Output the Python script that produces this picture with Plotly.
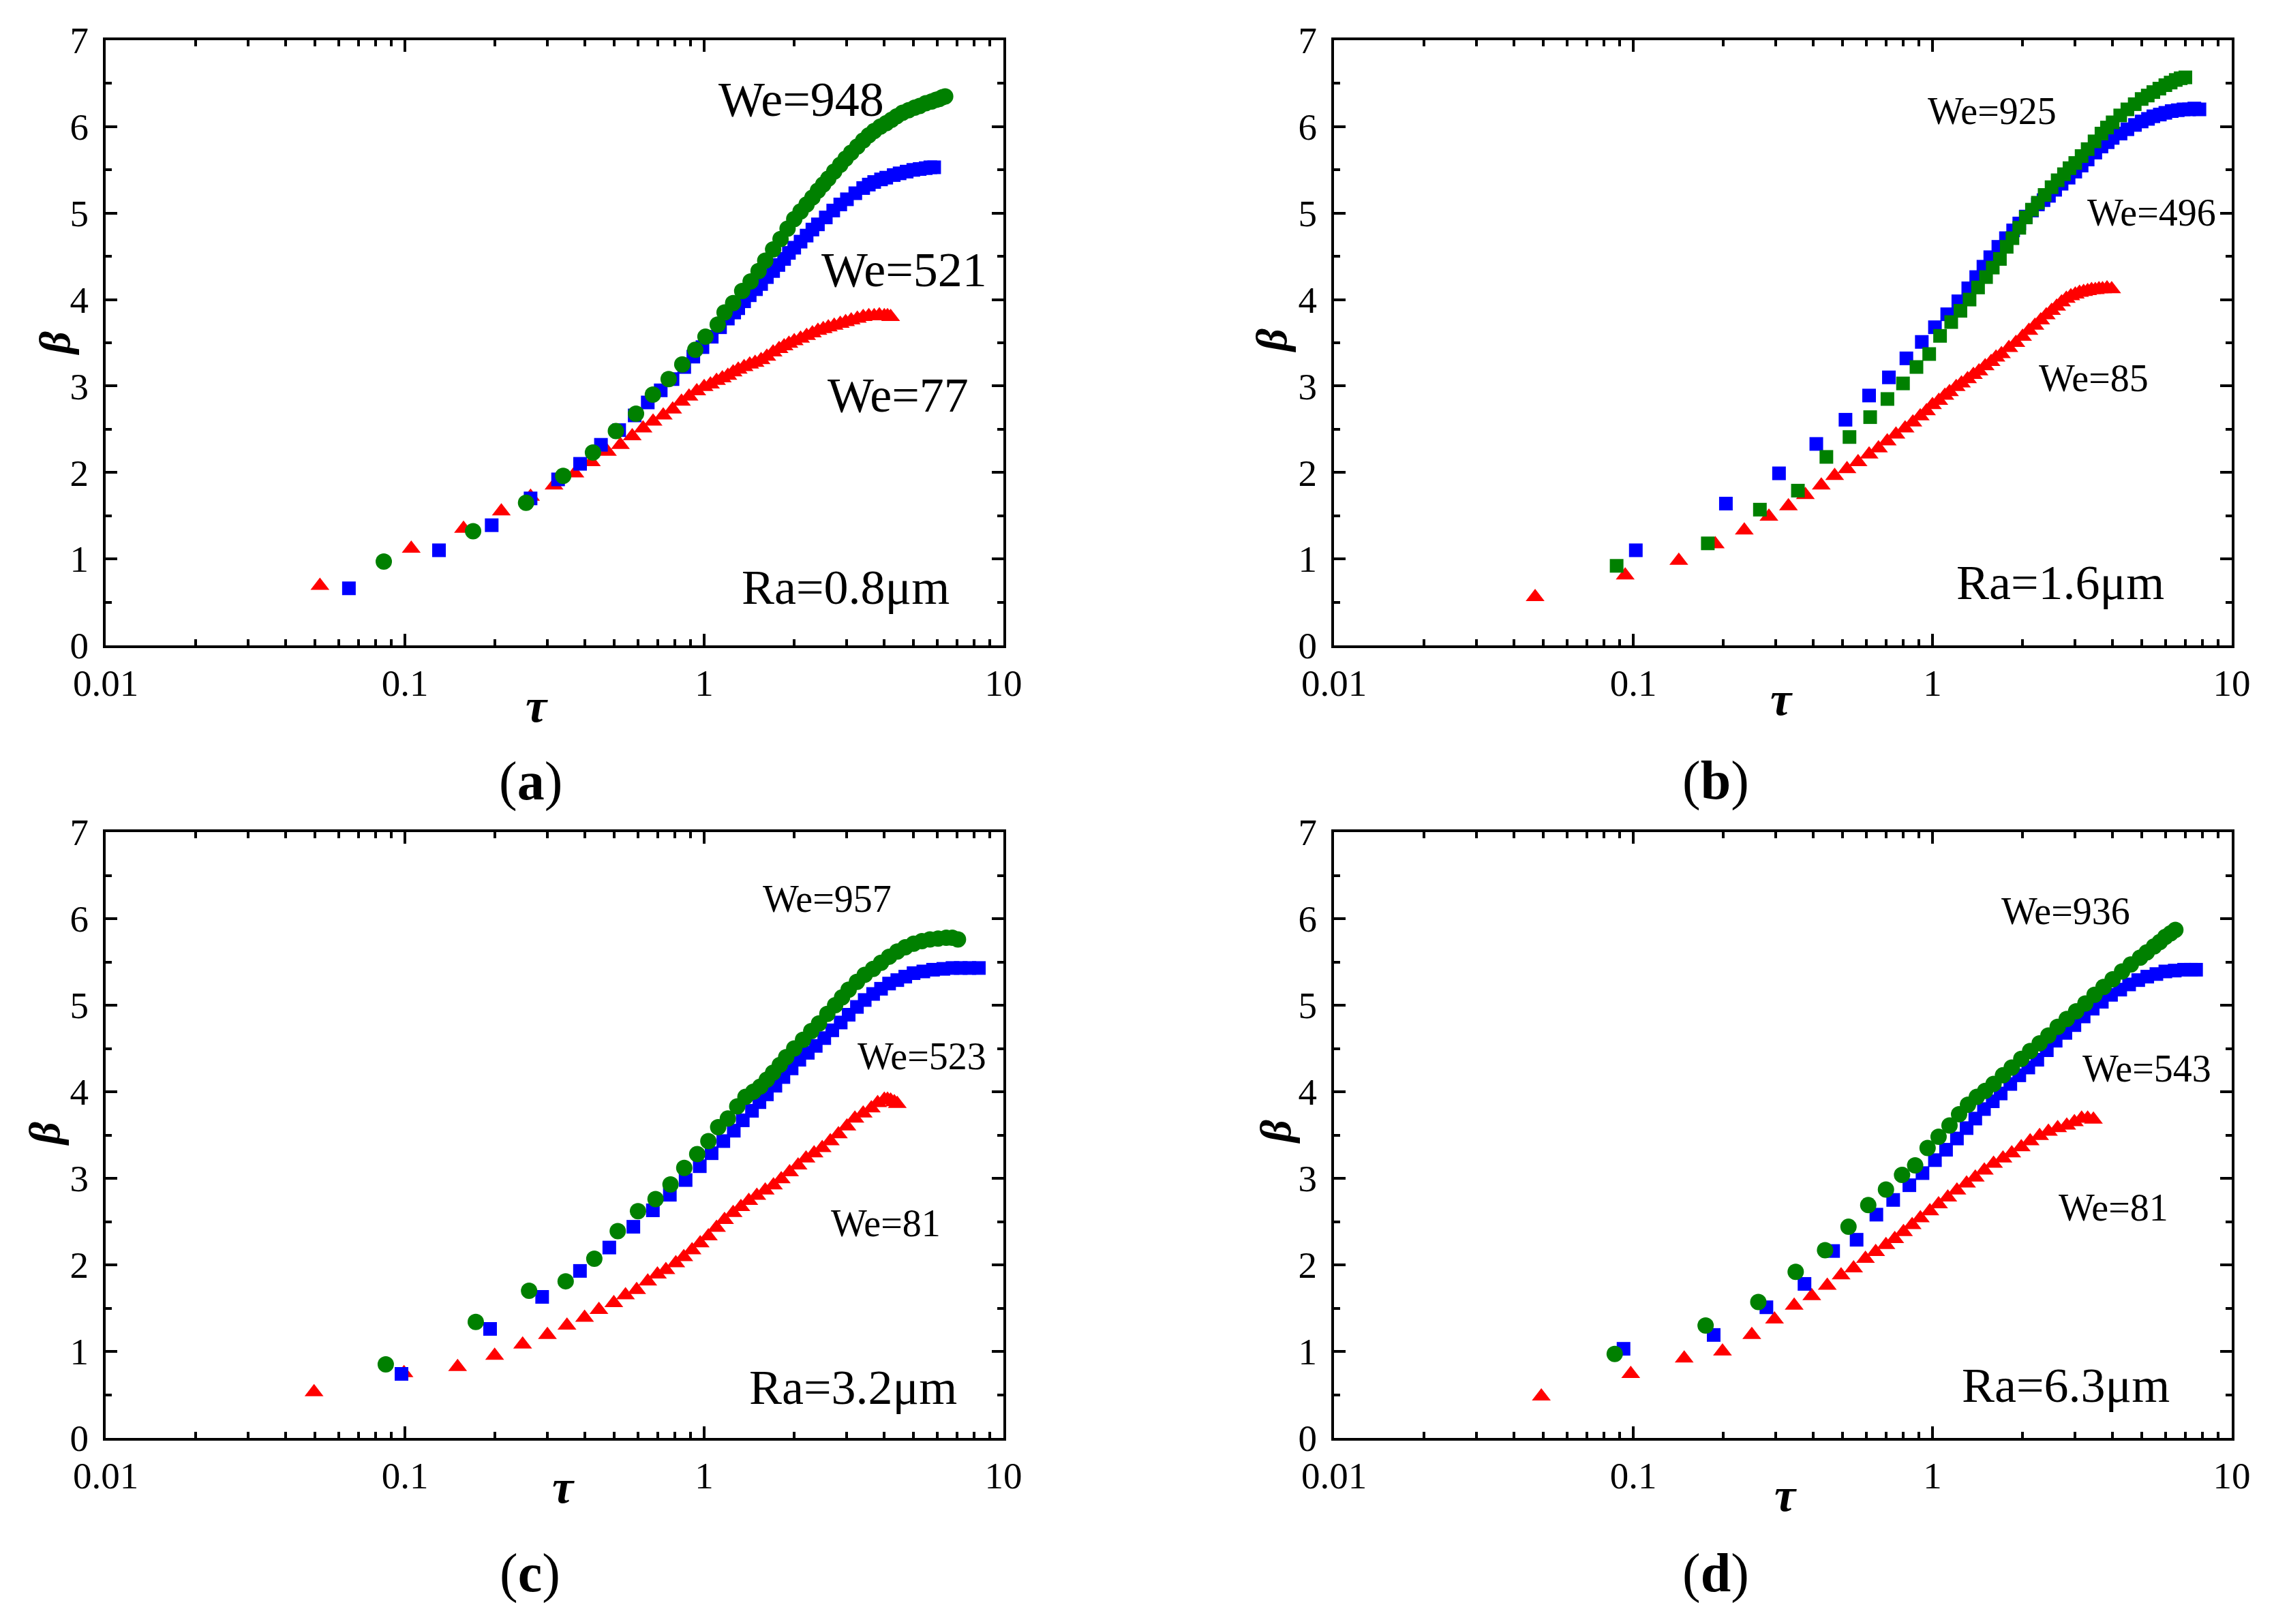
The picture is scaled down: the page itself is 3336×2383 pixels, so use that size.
import plotly.graph_objects as go

W, H = 3336, 2383

# ---------------- data ----------------
# Panel (a) Ra=0.8um
tau_a_red = [0.052,0.105,0.157,0.21,0.263,0.315,0.37,0.42,0.475,0.525,0.575,0.625,0.675,0.73,0.785,0.84,0.89,0.945,1.0,1.05,1.1,1.15,1.2,1.25,1.3,1.36,1.42,1.48,1.55,1.62,1.7,1.78,1.85,1.92,2.0,2.1,2.2,2.3,2.4,2.5,2.6,2.72,2.85,2.97,3.1,3.25,3.4,3.55,3.7,3.85,4.0,4.1,4.2]
beta_a_red = [0.69,1.12,1.35,1.55,1.72,1.85,1.99,2.12,2.24,2.32,2.42,2.51,2.59,2.66,2.73,2.82,2.88,2.94,2.99,3.02,3.06,3.09,3.12,3.16,3.19,3.22,3.25,3.27,3.30,3.34,3.39,3.43,3.46,3.49,3.52,3.55,3.58,3.61,3.64,3.66,3.68,3.70,3.72,3.74,3.76,3.78,3.80,3.81,3.81,3.82,3.81,3.81,3.80]
tau_a_blue = [0.065,0.13,0.195,0.263,0.325,0.385,0.452,0.52,0.586,0.648,0.716,0.784,0.858,0.92,0.987,1.06,1.13,1.2,1.26,1.3,1.36,1.42,1.49,1.55,1.62,1.7,1.77,1.85,1.92,2.0,2.1,2.2,2.3,2.4,2.55,2.7,2.85,3.0,3.2,3.4,3.55,3.7,3.9,4.06,4.3,4.5,4.75,5.0,5.25,5.5,5.7,5.87]
beta_a_blue = [0.66,1.10,1.39,1.70,1.92,2.10,2.32,2.49,2.66,2.81,2.95,3.08,3.22,3.34,3.45,3.57,3.68,3.78,3.85,3.90,3.98,4.05,4.12,4.18,4.26,4.33,4.40,4.47,4.54,4.60,4.67,4.74,4.81,4.87,4.95,5.03,5.10,5.16,5.23,5.29,5.33,5.36,5.39,5.41,5.44,5.46,5.48,5.50,5.51,5.52,5.53,5.53]
tau_a_green = [0.085,0.169,0.254,0.338,0.425,0.507,0.592,0.674,0.761,0.845,0.934,1.01,1.11,1.17,1.25,1.34,1.43,1.52,1.6,1.7,1.8,1.9,2.0,2.1,2.2,2.3,2.4,2.5,2.6,2.72,2.85,2.97,3.1,3.25,3.4,3.55,3.7,3.88,4.06,4.23,4.4,4.6,4.82,5.05,5.25,5.5,5.75,5.95,6.1,6.25,6.39]
beta_a_green = [0.97,1.32,1.65,1.96,2.23,2.48,2.68,2.90,3.08,3.25,3.42,3.57,3.71,3.85,3.96,4.10,4.21,4.33,4.45,4.58,4.70,4.82,4.93,5.02,5.10,5.18,5.26,5.33,5.40,5.48,5.56,5.63,5.70,5.77,5.84,5.90,5.95,6.00,6.04,6.08,6.12,6.16,6.19,6.22,6.24,6.27,6.29,6.31,6.32,6.34,6.35]

# Panel (b) Ra=1.6um
tau_b_red = [0.047,0.094,0.142,0.188,0.235,0.284,0.33,0.376,0.425,0.471,0.518,0.564,0.614,0.66,0.706,0.755,0.81,0.86,0.91,0.955,1.0,1.05,1.1,1.14,1.2,1.25,1.31,1.37,1.43,1.5,1.57,1.63,1.7,1.8,1.9,2.0,2.1,2.2,2.3,2.4,2.5,2.6,2.7,2.8,2.9,3.0,3.1,3.2,3.3,3.4,3.5,3.6,3.7,3.83,3.97]
beta_b_red = [0.56,0.81,0.98,1.17,1.33,1.49,1.61,1.74,1.85,1.96,2.04,2.12,2.21,2.28,2.36,2.44,2.51,2.58,2.65,2.71,2.78,2.83,2.89,2.93,2.99,3.03,3.08,3.13,3.17,3.23,3.28,3.33,3.37,3.44,3.50,3.57,3.64,3.70,3.76,3.82,3.87,3.92,3.97,4.01,4.04,4.06,4.08,4.09,4.10,4.11,4.11,4.12,4.12,4.13,4.12]
tau_b_blue = [0.102,0.204,0.307,0.409,0.512,0.614,0.715,0.818,0.921,1.019,1.12,1.22,1.317,1.40,1.48,1.56,1.66,1.76,1.86,1.95,2.05,2.15,2.25,2.35,2.45,2.57,2.7,2.85,3.0,3.15,3.3,3.5,3.67,3.85,4.0,4.25,4.48,4.75,5.0,5.25,5.47,5.75,6.0,6.3,6.6,6.9,7.2,7.5,7.8]
beta_b_blue = [1.10,1.64,1.99,2.33,2.61,2.89,3.10,3.32,3.51,3.68,3.83,3.98,4.13,4.26,4.38,4.49,4.61,4.71,4.80,4.88,4.96,5.03,5.10,5.15,5.20,5.27,5.34,5.41,5.48,5.55,5.62,5.70,5.77,5.82,5.87,5.92,5.97,6.02,6.06,6.09,6.12,6.14,6.16,6.18,6.19,6.20,6.20,6.21,6.20]
tau_b_green = [0.088,0.1775,0.265,0.355,0.442,0.528,0.619,0.707,0.797,0.884,0.975,1.06,1.155,1.24,1.33,1.42,1.51,1.59,1.68,1.77,1.85,1.95,2.05,2.15,2.25,2.37,2.5,2.62,2.75,2.87,3.0,3.15,3.3,3.48,3.67,3.83,4.0,4.24,4.48,4.74,5.0,5.24,5.47,5.73,6.0,6.25,6.5,6.75,7.0]
beta_b_green = [0.92,1.18,1.57,1.79,2.18,2.41,2.64,2.85,3.03,3.22,3.37,3.58,3.74,3.87,4.00,4.14,4.26,4.37,4.47,4.61,4.71,4.83,4.95,5.04,5.12,5.21,5.30,5.38,5.45,5.52,5.58,5.66,5.74,5.83,5.92,5.99,6.05,6.13,6.20,6.26,6.32,6.36,6.40,6.44,6.48,6.51,6.54,6.56,6.57]

# Panel (c) Ra=3.2um
tau_c_red = [0.0497,0.0993,0.15,0.1995,0.2474,0.2994,0.348,0.3985,0.445,0.499,0.546,0.595,0.648,0.698,0.745,0.804,0.855,0.911,0.97,1.033,1.1,1.17,1.25,1.327,1.41,1.5,1.6,1.705,1.81,1.93,2.06,2.19,2.33,2.48,2.64,2.81,3.0,3.19,3.4,3.62,3.8,4.0,4.1,4.2,4.32,4.42]
beta_c_red = [0.53,0.75,0.82,0.95,1.08,1.19,1.30,1.39,1.48,1.56,1.65,1.71,1.81,1.89,1.94,2.02,2.09,2.17,2.25,2.33,2.43,2.52,2.60,2.67,2.74,2.80,2.86,2.92,2.99,3.07,3.15,3.23,3.29,3.35,3.43,3.51,3.60,3.69,3.75,3.81,3.87,3.91,3.91,3.90,3.88,3.86]
tau_c_blue = [0.0974,0.1926,0.2875,0.3846,0.482,0.58,0.674,0.768,0.867,0.967,1.059,1.159,1.256,1.346,1.445,1.53,1.62,1.73,1.84,1.96,2.08,2.22,2.36,2.52,2.68,2.86,3.04,3.24,3.44,3.67,3.90,4.15,4.42,4.7,5.01,5.4,5.82,6.3,6.76,7.2,7.7,8.28]
beta_c_blue = [0.74,1.26,1.63,1.93,2.20,2.44,2.63,2.81,2.98,3.14,3.29,3.43,3.55,3.67,3.78,3.88,3.97,4.07,4.17,4.27,4.37,4.45,4.53,4.62,4.71,4.80,4.89,4.98,5.06,5.13,5.19,5.25,5.29,5.33,5.37,5.39,5.41,5.42,5.43,5.43,5.43,5.43]
tau_c_green = [0.0863,0.1725,0.26,0.3445,0.4295,0.5144,0.601,0.688,0.772,0.858,0.948,1.033,1.114,1.2,1.29,1.374,1.46,1.54,1.62,1.70,1.79,1.88,2.0,2.14,2.28,2.42,2.58,2.74,2.89,3.04,3.24,3.44,3.67,3.90,4.15,4.42,4.7,5.01,5.34,5.68,6.05,6.44,6.75,7.05]
beta_c_green = [0.85,1.34,1.70,1.81,2.07,2.39,2.62,2.76,2.93,3.12,3.28,3.43,3.59,3.69,3.83,3.94,4.00,4.06,4.14,4.22,4.31,4.40,4.50,4.60,4.70,4.79,4.90,5.00,5.09,5.18,5.27,5.35,5.42,5.49,5.56,5.62,5.67,5.71,5.74,5.76,5.77,5.78,5.78,5.76]

# Panel (d) Ra=6.3um
tau_d_red = [0.0493,0.0981,0.148,0.1987,0.249,0.2965,0.345,0.395,0.445,0.495,0.545,0.597,0.646,0.699,0.748,0.80,0.855,0.911,0.98,1.048,1.125,1.207,1.3,1.39,1.49,1.60,1.72,1.84,1.98,2.12,2.28,2.44,2.62,2.81,2.98,3.15,3.3,3.45]
beta_d_red = [0.48,0.74,0.92,1.00,1.19,1.37,1.53,1.64,1.76,1.88,1.96,2.07,2.15,2.23,2.30,2.38,2.46,2.54,2.62,2.70,2.78,2.86,2.94,3.01,3.09,3.17,3.23,3.29,3.36,3.43,3.49,3.54,3.58,3.61,3.65,3.69,3.69,3.68]
tau_d_blue = [0.0928,0.1857,0.2786,0.3735,0.4655,0.5577,0.6493,0.739,0.837,0.926,1.019,1.11,1.207,1.30,1.39,1.486,1.59,1.69,1.82,1.95,2.09,2.24,2.41,2.58,2.78,2.98,3.2,3.43,3.68,3.95,4.24,4.54,4.87,5.22,5.6,6.0,6.45,6.93,7.3,7.6]
beta_d_blue = [1.03,1.19,1.51,1.78,2.16,2.29,2.58,2.75,2.92,3.06,3.21,3.33,3.46,3.58,3.69,3.80,3.89,3.98,4.09,4.19,4.28,4.37,4.48,4.59,4.68,4.77,4.87,4.96,5.04,5.12,5.18,5.24,5.29,5.33,5.36,5.39,5.40,5.41,5.41,5.41]
tau_d_green = [0.0867,0.1745,0.2618,0.349,0.4375,0.524,0.61,0.699,0.791,0.875,0.963,1.048,1.14,1.227,1.314,1.406,1.50,1.60,1.72,1.84,1.98,2.12,2.28,2.44,2.62,2.81,3.02,3.24,3.48,3.73,4.0,4.30,4.6,4.94,5.2,5.5,5.75,6.0,6.25,6.48]
beta_d_green = [0.97,1.30,1.57,1.92,2.17,2.44,2.69,2.87,3.04,3.15,3.35,3.48,3.61,3.74,3.85,3.94,4.01,4.09,4.19,4.28,4.38,4.47,4.56,4.65,4.75,4.84,4.93,5.02,5.12,5.21,5.30,5.39,5.47,5.55,5.61,5.68,5.73,5.79,5.83,5.87]

x_tick_vals = [0.01, 0.1, 1, 10]
x_tick_text = ["0.01", "0.1", "1", "10"]
x_minor_vals = [m * d for d in (0.01, 0.1, 1) for m in range(2, 10)]
y_tick_vals = [0, 1, 2, 3, 4, 5, 6, 7]

panel_labels = ["a", "b", "c", "d"]
ra_labels = ["Ra=0.8μm", "Ra=1.6μm", "Ra=3.2μm", "Ra=6.3μm"]
we_labels = [["We=948", "We=521", "We=77"],
             ["We=925", "We=496", "We=85"],
             ["We=957", "We=523", "We=81"],
             ["We=936", "We=543", "We=81"]]

RED, BLUE, GREEN = "#FF0000", "#0000FF", "#008000"
FONT = "Liberation Serif"

# ---------------- layout geometry (pixels) ----------------
panels = [
    dict(x0=155, x1=1472, y0=59, y1=947),
    dict(x0=1957, x1=3274, y0=59, y1=947),
    dict(x0=155, x1=1472, y0=1221, y1=2110),
    dict(x0=1957, x1=3274, y0=1221, y1=2110),
]

def fx(px):
    return px / W

def fy(py):
    return 1 - py / H

fig = go.Figure()

TRI, SQ, CIR = 24, 20, 24
series = [
    [(tau_a_red, beta_a_red, RED, "triangle-up", TRI),
     (tau_a_blue, beta_a_blue, BLUE, "square", SQ),
     (tau_a_green, beta_a_green, GREEN, "circle", CIR)],
    [(tau_b_red, beta_b_red, RED, "triangle-up", TRI),
     (tau_b_blue, beta_b_blue, BLUE, "square", SQ),
     (tau_b_green, beta_b_green, GREEN, "square", SQ)],
    [(tau_c_red, beta_c_red, RED, "triangle-up", TRI),
     (tau_c_blue, beta_c_blue, BLUE, "square", SQ),
     (tau_c_green, beta_c_green, GREEN, "circle", CIR)],
    [(tau_d_red, beta_d_red, RED, "triangle-up", TRI),
     (tau_d_blue, beta_d_blue, BLUE, "square", SQ),
     (tau_d_green, beta_d_green, GREEN, "circle", CIR)],
]

for i, (p, ser) in enumerate(zip(panels, series)):
    n = "" if i == 0 else str(i + 1)
    for (xs, ys, col, sym, sz) in ser:
        fig.add_trace(go.Scatter(
            x=xs, y=ys, mode="markers", xaxis="x" + n, yaxis="y" + n,
            marker=dict(color=col, symbol=sym, size=sz, line=dict(width=0)),
            showlegend=False, hoverinfo="skip", cliponaxis=False))
    common = dict(showline=True, linecolor="black", linewidth=4, mirror="allticks",
                  ticks="inside", ticklen=17, tickwidth=4, tickcolor="black",
                  showgrid=False, zeroline=False, automargin=False,
                  tickfont=dict(family=FONT, size=55, color="black"))
    fig.layout["xaxis" + n] = dict(
        type="log", range=[-2, 1], domain=[fx(p["x0"]), fx(p["x1"])],
        anchor="y" + n, tickmode="array", tickvals=x_tick_vals, ticktext=x_tick_text,
        minor=dict(ticks="inside", ticklen=9, tickwidth=4, tickcolor="black",
                   tickmode="array", tickvals=x_minor_vals, showgrid=False),
        ticklabelstandoff=4, **common)
    fig.layout["yaxis" + n] = dict(
        range=[0, 7], domain=[fy(p["y1"]), fy(p["y0"])], anchor="x" + n,
        tickmode="array", tickvals=y_tick_vals,
        minor=dict(ticks="inside", ticklen=9, tickwidth=4, tickcolor="black",
                   dtick=0.5, showgrid=False),
        ticklabelstandoff=10, **common)

annotations = []

def add_text(text, px, py, size, angle=0):
    annotations.append(dict(
        text=text, x=fx(px), y=fy(py), xref="paper", yref="paper",
        xanchor="center", yanchor="middle", showarrow=False, textangle=angle,
        font=dict(family=FONT, size=size, color="black")))

we_pos = [
    [(1175, 146, 72), (1326, 396, 72), (1317, 580, 72)],
    [(2922, 163, 56), (3156, 312, 56), (3071, 555, 56)],
    [(1213, 1319, 56), (1352, 1550, 56), (1299, 1795, 56)],
    [(3030, 1337, 56), (3149, 1568, 56), (3100, 1772, 56)],
]
ra_pos = [(1240, 862), (3022, 855), (1251, 2036), (3030, 2033)]
tau_pos = [(787, 1035), (2613, 1026), (826, 2181), (2619, 2193)]
beta_pos = [(81, 504), (1865, 500), (65, 1664), (1871, 1660)]
lab_pos = [(778, 1146), (2517, 1145), (777, 2308), (2517, 2308)]

for i in range(4):
    for txt, (px, py, sz) in zip(we_labels[i], we_pos[i]):
        add_text(txt, px, py, sz)
    add_text(ra_labels[i], ra_pos[i][0], ra_pos[i][1], 72)
    add_text("<b><i>τ</i></b>", tau_pos[i][0], tau_pos[i][1], 70)
    add_text("<b><i>β</i></b>", beta_pos[i][0], beta_pos[i][1], 64, angle=-90)
    add_text("(<b>" + panel_labels[i] + "</b>)", lab_pos[i][0], lab_pos[i][1], 80)

fig.update_layout(
    width=W, height=H, margin=dict(l=0, r=0, t=0, b=0, autoexpand=False),
    paper_bgcolor="white", plot_bgcolor="white",
    annotations=annotations, showlegend=False)

fig.write_html("out.html")
